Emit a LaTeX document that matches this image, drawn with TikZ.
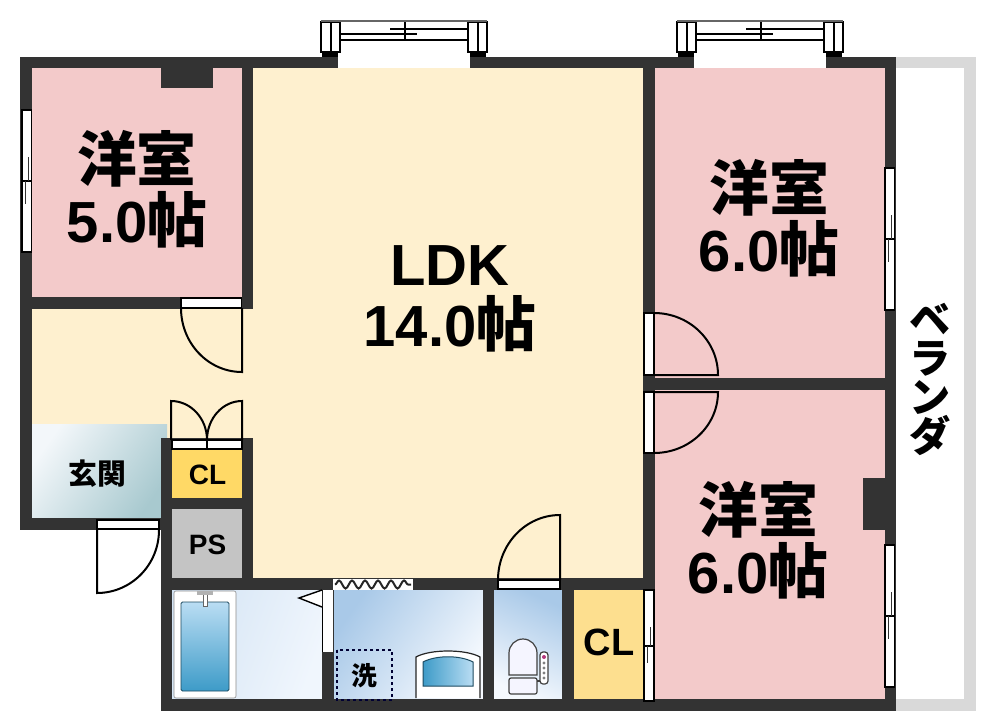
\documentclass[tikz,border=0pt]{standalone}
\usepackage{fontspec}
\setmainfont{Liberation Sans}
\newfontfamily\jpfont[Scale=1.03]{Noto Sans CJK JP}
\newcommand{\jp}[1]{{\jpfont #1}}
\usetikzlibrary{%
  decorations,%
  decorations.pathmorphing,% wave of the curtain
  shapes,%
  calc
}
\definecolor{wallgray}{HTML}{333333}
\definecolor{roompink}{HTML}{F3CACA}
\definecolor{ldkyellow}{HTML}{FEF0CF}
\definecolor{balcony}{HTML}{D9D9D9}
\definecolor{tubdark}{HTML}{1D4A60}
\definecolor{genkanlight}{HTML}{F3F7FA}
\definecolor{genkandark}{HTML}{A8C9CF}
\definecolor{washdark}{HTML}{A9C9E8}
\definecolor{washlight}{HTML}{F5F9FE}
\definecolor{bathleft}{HTML}{D4E4F4}
\definecolor{bathright}{HTML}{F0F6FD}
\definecolor{watertop}{HTML}{BADDF3}
\definecolor{waterdeep}{HTML}{3D9BC8}
\definecolor{clstrong}{HTML}{FFD966}
\definecolor{clpale}{HTML}{FDDF8F}
\definecolor{psgray}{HTML}{C4C4C4}

\begin{document}
\begin{tikzpicture}[
  x=1pt,y=-1pt,
  font=\bfseries,
  wall/.style={fill=wallgray},
  opening/.style={rectangle, draw=black, fill=white, line width=1.1pt},
  leaf/.style={draw=black, line width=2pt},
  pane/.style={draw=black, line width=1.6pt},
  fixture/.style={draw=black!75, line width=1.2pt},
  bigtext/.style={align=center, inner sep=0pt, font=\bfseries\fontsize{58}{61}\selectfont},
  smalltext/.style={inner sep=0pt, font=\bfseries\fontsize{28}{30}\selectfont}
]
\useasboundingbox (0,0) rectangle (989,724);

% floors
\fill[roompink] (32,68) rectangle (242,297);
\fill[roompink] (655,68) rectangle (885,378);
\fill[roompink] (655,390) rectangle (885,699);
\fill[ldkyellow] (253,68) rectangle (643,578);
\fill[ldkyellow] (32,309) rectangle (253,518);
\shade[top color=genkanlight, bottom color=genkandark, shading angle=55] (32,424) rectangle (167,518);
\fill[clstrong] (172,450) rectangle (242,498);
\fill[psgray] (172,509) rectangle (242,578);
\fill[clpale] (574,590) rectangle (643,699);
\shade[top color=bathleft, bottom color=bathright, shading angle=70] (172,590) rectangle (322,699);
\shade[top color=washdark, bottom color=washlight, shading angle=55] (334,590) rectangle (483,699);
\shade[top color=washdark, bottom color=washlight, shading angle=-25] (494,590) rectangle (562,699);

% veranda
\fill[balcony] (896,57) rectangle (976,68);
\fill[balcony] (964,57) rectangle (976,711);
\fill[balcony] (896,699) rectangle (976,711);

% walls
\foreach \xa/\ya/\xb/\yb in {20/57/896/68, 20/57/32/530, 20/518/161/530, 885/57/896/711,
  161/699/896/711, 161/438/172/711, 20/297/253/309, 242/68/253/309, 242/438/253/590,
  161/438/253/450, 161/498/253/509, 161/578/655/590, 643/68/655/711, 643/378/896/390,
  322/590/334/699, 483/590/494/699, 562/590/574/699, 161/68/213/88, 863/478/885/530} {
  \fill[wall] (\xa,\ya) rectangle (\xb,\yb);
}

% windows on top
\foreach \dx in {0,356} {
  \fill[white] (338+\dx,57) rectangle (470+\dx,68);
  \fill[black] (322+\dx,52) rectangle (338+\dx,57);
  \fill[black] (470+\dx,52) rectangle (486+\dx,57);
  \draw[pane,line width=2pt] (321+\dx,22) rectangle (340+\dx,52);
  \draw[pane,line width=2pt] (468+\dx,22) rectangle (487+\dx,52);
  \draw[pane] (331+\dx,22) -- (331+\dx,52);
  \draw[pane] (478+\dx,22) -- (478+\dx,52);
  \draw[pane,black!60] (321+\dx,21) -- (487+\dx,21);
  \draw[pane] (340+\dx,34) -- (417+\dx,34);
  \draw[pane] (390+\dx,29) -- (468+\dx,29);
  \draw[pane] (340+\dx,40) -- (468+\dx,40);
  \draw[pane] (405+\dx,22) -- (405+\dx,40);
}

% windows at the side
\foreach \wx/\wy in {885/168, 885/545, 22/110} {
  \draw[opening] (\wx,\wy) rectangle (\wx+9.5,\wy+142);
  \draw[opening] (\wx,\wy+71) -- (\wx+9.5,\wy+71);
  \draw[line width=1pt,black!80] (\wx+6,\wy+47) -- (\wx+6,\wy+71);
  \draw[line width=1pt,black!80] (\wx+3,\wy+71) -- (\wx+3,\wy+94);
}
\draw[opening] (644,590) rectangle (654,701);
\draw[opening] (644,646) -- (654,646);
\draw[line width=1pt,black!80] (650,627) -- (650,646);
\draw[line width=1pt,black!80] (647,646) -- (647,663);

% doors
\draw[opening] (181,298) rectangle (241.5,308);
\draw[leaf] (242,308) -- (242,372) arc[start angle=90,end angle=180,x radius=61,y radius=64];
\draw[opening] (97,520) rectangle (159,529);
\draw[leaf] (97,530) -- (97,593) arc[start angle=90,end angle=0,x radius=62,y radius=63];
\draw[opening] (172,440) rectangle (207,449);
\draw[opening] (207,440) rectangle (242,449);
\draw[leaf] (207,440) arc[start angle=0,end angle=-90,x radius=36,y radius=39] -- (171,440);
\draw[leaf] (207,440) arc[start angle=180,end angle=270,x radius=35,y radius=39] -- (242,440);
\draw[opening] (498,580) rectangle (560,589);
\draw[leaf] (560,580) -- (560,515) arc[start angle=-90,end angle=-180,x radius=62,y radius=65];
\draw[opening] (644,313) rectangle (654,375);
\draw[leaf] (654,375) -- (718,375) arc[start angle=0,end angle=-90,x radius=64,y radius=62];
\draw[opening] (644,392) rectangle (654,453);
\draw[leaf] (654,392) -- (718,392) arc[start angle=0,end angle=90,x radius=64,y radius=61];
\fill[white] (322,590) rectangle (333,652);
\draw[line width=0.6pt] (322,652) -- (322,590);
\draw[leaf,fill=white,line width=1.4pt] (322,590) -- (299,598) -- (322,607);

% curtain
\fill[white] (333,579) rectangle (413,590);
\draw[line width=2pt,draw=black!85,decorate,decoration={snake,segment length=13pt,amplitude=4pt}] (335,584.5) -- (411,584.5);

% bath
\draw[draw=black!45,fill=white,rounded corners=2pt,line width=0.6pt] (174,591) rectangle (236,698);
\shade[top color=watertop, bottom color=waterdeep, draw=tubdark, line width=0.8pt, rounded corners=1.5pt] (181,602) rectangle (229,691);
\fill[black!30] (197,591) rectangle (213,595);
\draw[black!60,fill=white,line width=0.8pt] (203,595) -- (203,606) -- (207,606) -- (207,595);

% washroom
\draw[dashed,draw=black!80!blue,line width=1.6pt] (337,650) rectangle (392,700);
\draw[draw=black!85,fill=white,line width=1.2pt] (416,698) -- (416,657) .. controls (430,649) and (466,649) .. (480,657) -- (480,698);
\shade[left color=waterdeep, right color=watertop, draw=tubdark, line width=1pt]
  (423,686) -- (423,662) .. controls (436,655) and (460,655) .. (473,662) -- (473,686) -- cycle;

% toilet
\draw[fixture,fill=white!96!blue] (509,675) -- (509,653) arc[start angle=180,end angle=360,radius=14] -- (537,675) -- cycle;
\draw[fixture,fill=white!96!blue,rounded corners=2pt] (509,678) rectangle (537,694);
\draw[fixture] (537,681) -- (548,681);
\draw[fixture,fill=white,rounded corners=3pt] (540,652) rectangle (548,684);
\fill[magenta!70!black] (544,657) circle (2);
\foreach \y in {663,668,673,678} {
  \fill[black!50] (544,\y) circle (1.7);
}

% labels
\node[bigtext] (room5) at (137,189) {\jp{洋室}\\5.0\jp{帖}};
\node[bigtext] (ldk) at (450,299) {LDK\\14.0\jp{帖}};
\node[bigtext] (room6a) at (769,218) {\jp{洋室}\\6.0\jp{帖}};
\node[bigtext] (room6b) at (758,540) {\jp{洋室}\\6.0\jp{帖}};
\node[smalltext] (genkan) at (97,474) {\jp{玄関}};
\node[smalltext] (clsmall) at (207.5,475) {CL};
\node[smalltext] (ps) at (207.5,545) {PS};
\node[smalltext,font=\bfseries\fontsize{38}{40}\selectfont] (clbig) at (609,642) {CL};
\node[smalltext,font=\bfseries\fontsize{25}{27}\selectfont] (wash) at (364.5,676) {\jp{洗}};
\node[align=center,inner sep=0pt,font=\bfseries\fontsize{40}{39}\selectfont] (veranda) at (930,379) {\jp{ベ}\\\jp{ラ}\\\jp{ン}\\\jp{ダ}};

\end{tikzpicture}
\end{document}
